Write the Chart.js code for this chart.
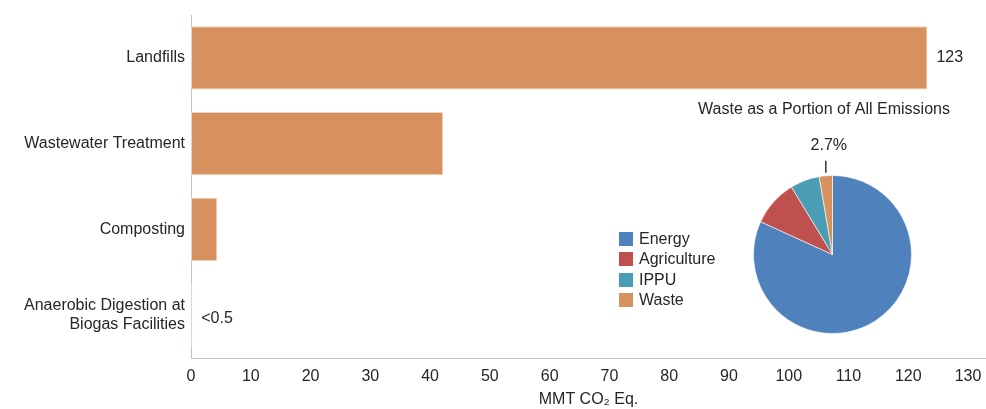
<!DOCTYPE html>
<html>
<head>
<meta charset="utf-8">
<script src="https://cdn.jsdelivr.net/npm/chart.js@4.4.1/dist/chart.umd.min.js"></script>
<style>
  html, body { margin: 0; padding: 0; background: #ffffff; }
  #wrap { position: relative; width: 986px; height: 409px; }
  #barBox { position: absolute; left: 0; top: 0; width: 986px; height: 409px; }
  #pieBox { position: absolute; left: 600px; top: 90px; width: 386px; height: 260px; }
</style>
</head>
<body>
<div id="wrap">
  <div id="barBox"><canvas id="barChart"></canvas></div>
  <div id="pieBox"><canvas id="pieChart"></canvas></div>
</div>
<script>
// Dados do gráfico de barras (MMT CO2 Eq.)
const categories = ['Landfills', 'Wastewater Treatment', 'Composting', ['Anaerobic Digestion at', 'Biogas Facilities']];
const emissions = [123.2, 42.2, 4.4, 0.2];
const valueLabels = ['123', '', '', '<0.5'];
const xTicks = [0, 10, 20, 30, 40, 50, 60, 70, 80, 90, 100, 110, 120, 130];

// Dados do gráfico de pizza (parcela de todas as emissões, %)
const sectors = ['Energy', 'Agriculture', 'IPPU', 'Waste'];
const sectorShares = [81.8, 9.5, 6.0, 2.7];
const sectorColors = ['#4F81BD', '#C0504D', '#4A9DB4', '#D6915F'];

const FONT = 'Liberation Sans';
const TEXT = '#262626';
const BAR_COLOR = '#D6915F';

const valueLabelPlugin = {
  id: 'valueLabels',
  afterDatasetsDraw(chart) {
    const ctx = chart.ctx;
    const meta = chart.getDatasetMeta(0);
    ctx.save();
    ctx.font = `16px "${FONT}"`;
    ctx.fillStyle = TEXT;
    ctx.textAlign = 'left';
    ctx.textBaseline = 'middle';
    meta.data.forEach((bar, i) => {
      if (!valueLabels[i]) return;
      ctx.fillText(valueLabels[i], bar.x + 9, bar.y + (i === 3 ? 3 : 0));
    });
    ctx.restore();
  }
};

new Chart(document.getElementById('barChart'), {
  type: 'bar',
  data: {
    labels: categories,
    datasets: [{
      data: emissions,
      backgroundColor: BAR_COLOR,
      borderColor: '#EDD3BD',
      borderWidth: 1,
      borderSkipped: false,
      barPercentage: 0.735,
      categoryPercentage: 1
    }]
  },
  options: {
    indexAxis: 'y',
    responsive: true,
    maintainAspectRatio: false,
    animation: false,
    layout: { padding: { top: 15, right: 0, bottom: 0, left: 0 } },
    plugins: { legend: { display: false }, tooltip: { enabled: false } },
    scales: {
      x: {
        min: 0,
        max: 133,
        afterBuildTicks: scale => { scale.ticks = xTicks.map(v => ({ value: v })); },
        afterFit: scale => {
          scale.height = 51;
          scale.paddingLeft = 0;
          scale.paddingRight = 0;
        },
        grid: { display: false, drawTicks: false },
        border: { display: true, color: '#C4C4C4', width: 1 },
        ticks: { color: TEXT, font: { family: FONT, size: 16 }, padding: 9, maxRotation: 0, autoSkip: false },
        title: {
          display: true,
          text: 'MMT CO₂ Eq.',
          color: TEXT,
          font: { family: FONT, size: 16 },
          padding: { top: 0, bottom: 0 }
        }
      },
      y: {
        afterFit: scale => {
          scale.width = 191;
          scale.paddingTop = 0;
          scale.paddingBottom = 0;
        },
        grid: { display: false, drawTicks: false },
        border: { display: true, color: '#C4C4C4', width: 1 },
        ticks: { color: TEXT, font: { family: FONT, size: 16 }, padding: 6, autoSkip: false }
      }
    }
  },
  plugins: [valueLabelPlugin]
});

const pieExtrasPlugin = {
  id: 'pieExtras',
  afterDraw(chart) {
    const ctx = chart.ctx;
    ctx.save();
    ctx.fillStyle = TEXT;
    ctx.font = `16px "${FONT}"`;

    // título
    ctx.textAlign = 'center';
    ctx.textBaseline = 'middle';
    ctx.fillText('Waste as a Portion of All Emissions', 224, 20);

    // rótulo da fatia Waste
    const arc = chart.getDatasetMeta(0).data[3];
    const mid = (arc.startAngle + arc.endAngle) / 2;
    const lx = arc.x + Math.cos(mid) * arc.outerRadius;
    const ly = arc.y + Math.sin(mid) * arc.outerRadius;
    ctx.strokeStyle = '#333333';
    ctx.lineWidth = 1.5;
    ctx.beginPath();
    ctx.moveTo(lx, ly - 3);
    ctx.lineTo(lx, ly - 15);
    ctx.stroke();
    ctx.fillText(sectorShares[3].toFixed(1) + '%', lx + 3, ly - 30);

    // legenda
    ctx.textAlign = 'left';
    const rows = [149, 169, 190, 210];
    sectors.forEach((name, i) => {
      ctx.fillStyle = sectorColors[i];
      ctx.fillRect(19, rows[i] - 7, 14, 14);
      ctx.fillStyle = TEXT;
      ctx.fillText(name, 39, rows[i] + 1);
    });
    ctx.restore();
  }
};

new Chart(document.getElementById('pieChart'), {
  type: 'pie',
  data: {
    labels: sectors,
    datasets: [{
      data: sectorShares,
      backgroundColor: sectorColors,
      borderColor: 'rgba(255,255,255,0.6)',
      borderWidth: 1
    }]
  },
  options: {
    responsive: true,
    maintainAspectRatio: false,
    animation: false,
    layout: { padding: { top: 85, right: 74, bottom: 16, left: 153 } },
    plugins: { legend: { display: false }, tooltip: { enabled: false } }
  },
  plugins: [pieExtrasPlugin]
});
</script>
</body>
</html>
